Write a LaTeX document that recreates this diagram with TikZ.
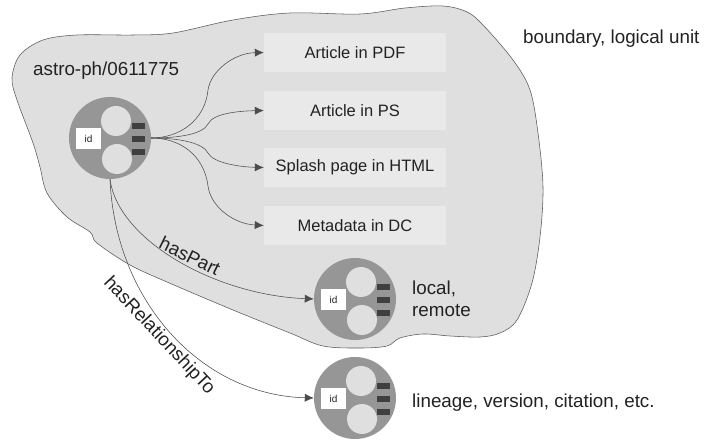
\documentclass[tikz,border=0pt]{standalone}
\usepackage{fontspec}
\setmainfont{Liberation Sans}
\usetikzlibrary{arrows.meta,calc}
\definecolor{blobfill}{HTML}{DFDFDF}
\definecolor{boxfill}{HTML}{E9E9E9}
\definecolor{hubfill}{HTML}{969696}
\definecolor{portfill}{HTML}{3F3F3F}
\definecolor{inkc}{HTML}{222222}
\tikzset{
  txt/.style={font=\fontsize{18.8}{22}\selectfont, text=inkc, inner sep=0pt},
  itembox/.style={fill=boxfill, minimum width=182pt, minimum height=39pt, inner sep=0pt, font=\fontsize{16.5}{19}\selectfont, text=inkc},
  hub/.style={circle, fill=hubfill, minimum size=82pt, inner sep=0pt},
  lobe/.style={circle, fill=blobfill, minimum size=30pt, inner sep=0pt},
  idbox/.style={fill=white, minimum width=25pt, minimum height=21pt, inner sep=0pt, font=\fontsize{10}{11}\selectfont, text=inkc},
  port/.style={fill=portfill, minimum width=13pt, minimum height=6pt, inner sep=0pt},
  conn/.style={draw=black!70, line width=0.55pt, -{Latex[length=9pt,width=8pt]}},
}
\newcommand{\objnode}[3]{%
  \node[hub] (#1) at (#2,#3) {};
  \node[lobe] (#1u) at ($(#2,#3)+(6,-17)$) {};
  \node[lobe] (#1d) at ($(#2,#3)+(7,21)$) {};
  \node[idbox] (#1id) at ($(#2,#3)+(-21.5,0.5)$) {id};
  \node[port] (#1p) at ($(#2,#3)+(28.5,-12)$) {};
  \node[port] (#1q) at ($(#2,#3)+(28.5,1)$) {};
  \node[port] (#1r) at ($(#2,#3)+(28.5,14)$) {};
}
\begin{document}
\begin{tikzpicture}[x=1pt,y=-1pt]
\useasboundingbox (0,0) rectangle (704,443);
\draw[fill=blobfill, draw=black!65, line width=0.55pt]
  plot[smooth cycle, tension=0.55] coordinates {
  (12,78) (20,55) (43,40) (77,35) (133,35) (173,33) (233,20) (290,13) (360,14) (405,8) (443,6) (467,12) (483,25)
  (513,60) (530,90) (538,133) (543,187) (540,237) (532,283) (517,320) (500,333) (480,337) (450,336) (423,334)
  (400,338) (387,346) (360,348) (323,346) (290,333) (233,310) (167,282) (130,265) (97,243) (90,232) (67,217)
  (47,193) (40,167) (33,143) (17,100)};

\node[itembox] (a1) at (355,52.5) {Article in PDF};
\node[itembox] (a2) at (355,110.5) {Article in PS};
\node[itembox] (a3) at (355,167.5) {Splash page in HTML};
\node[itembox] (a4) at (355,225.5) {Metadata in DC};

\objnode{h}{110}{138}
\objnode{p}{355}{299}
\objnode{r}{355}{398}

\coordinate (m1) at (208,90);
\coordinate (m2) at (208,124);
\coordinate (m3) at (208,153);
\coordinate (m4) at (208,186);

\draw[conn] (h.east) .. controls (180,138) and (205,120) .. (m1) .. controls (211,70) and (235,53) .. (a1.west);
\draw[conn] (h.east) .. controls (180,138) and (203,134) .. (m2) .. controls (213,113) and (240,111) .. (a2.west);
\draw[conn] (h.east) .. controls (180,138) and (203,143) .. (m3) .. controls (213,163) and (240,167) .. (a3.west);
\draw[conn] (h.east) .. controls (180,138) and (204,155) .. (m4) .. controls (211,208) and (235,224) .. (a4.west);
\draw[conn] (h.south) .. controls (118,240) and (215,295) .. (p.west);
\draw[conn] (h.south) .. controls (115,300) and (200,395) .. (r.west);

\node[txt, anchor=west] (t1) at (33,70.5) {astro-ph/0611775};
\node[txt, anchor=west] (t2) at (523,38.5) {boundary, logical unit};
\node[txt, anchor=west] (t3) at (412,289) {local,};
\node[txt, anchor=west] (t4) at (412,311) {remote};
\node[txt, anchor=west] (t5) at (412,403) {lineage, version, citation, etc.};
\node[txt, rotate=-26] (t6) at (190,256) {hasPart};
\node[txt, rotate=-47] (t7) at (159,336) {hasRelationshipTo};
\end{tikzpicture}
\end{document}
